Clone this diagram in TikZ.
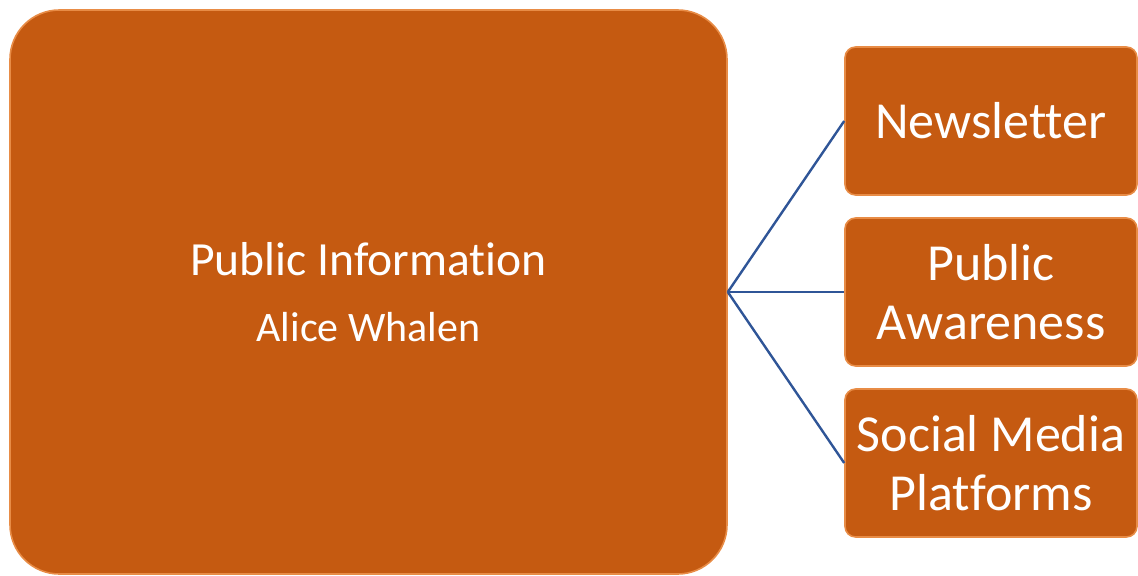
\documentclass[tikz,border=0pt]{standalone}
\usepackage{fontspec}
\setmainfont{Carlito}[RawFeature=-liga]
\usepackage{tikz}
\usetikzlibrary{positioning,calc}

\definecolor{boxorange}{RGB}{197,90,17}
\definecolor{rimorange}{RGB}{232,140,70}
\definecolor{linkblue}{RGB}{47,85,151}

\begin{document}
\begin{tikzpicture}[x=0.75pt,y=-0.75pt,
    unitbox/.style={rectangle,fill=boxorange,draw=rimorange,line width=1.2pt,
      text=white,align=center,inner sep=0pt},
    leadbox/.style={unitbox,minimum width=537.75pt,minimum height=423pt,rounded corners=37pt,
      font=\fontsize{35.7}{50}\selectfont},
    taskbox/.style={unitbox,minimum width=219pt,minimum height=111pt,rounded corners=8pt,
      font=\fontsize{39}{44}\selectfont},
    link/.style={draw=linkblue,line width=1.8pt}]
  \useasboundingbox (0,0) rectangle (1138,575);
  % lead unit on the left
  \node[leadbox] (pubinfo) at (368.5,292)
    {Public Information\\
     {\fontsize{31.5}{50}\selectfont Alice Whalen}};
  % tasks on the right
  \node[taskbox] (newsletter) at (991,121) {Newsletter};
  \node[taskbox] (awareness) at (991,292) {Public\\Awareness};
  \node[taskbox] (social) at (991,463) {Social Media\\Platforms};
  \draw[link] (pubinfo.east) -- (newsletter.west);
  \draw[link] (pubinfo.east) -- (awareness.west);
  \draw[link] (pubinfo.east) -- (social.west);
\end{tikzpicture}
\end{document}
